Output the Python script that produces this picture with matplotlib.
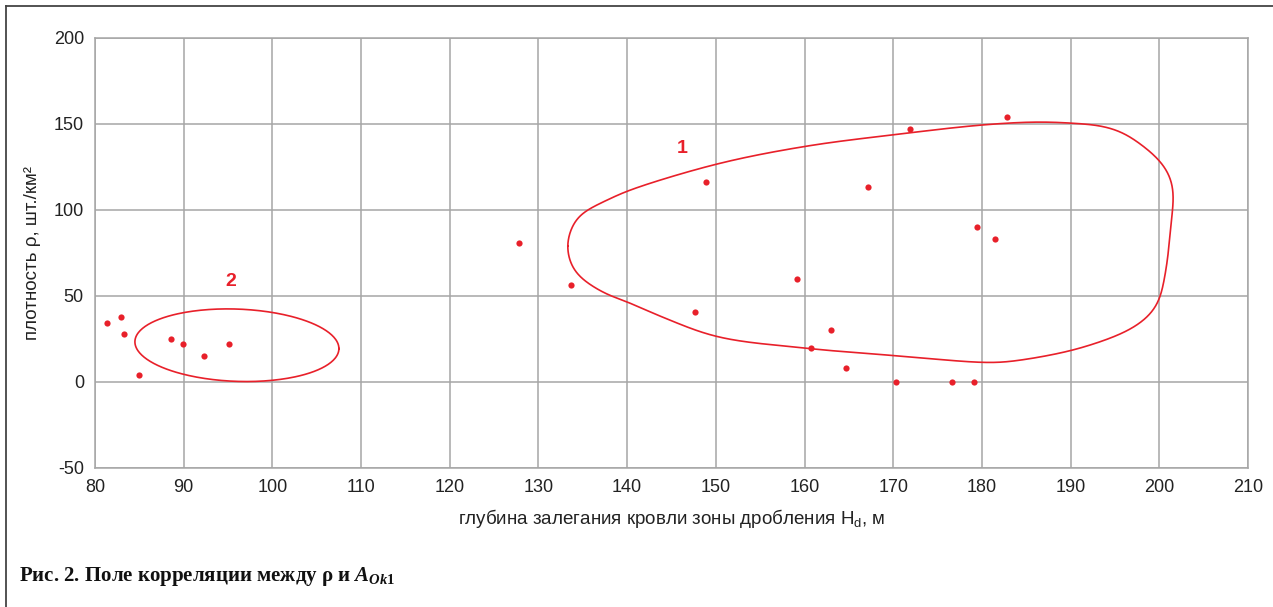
import numpy as np
import matplotlib
matplotlib.use("Agg")
import matplotlib.pyplot as plt
from matplotlib.lines import Line2D

plt.rcParams['font.family'] = ['Liberation Sans', 'DejaVu Sans']
plt.rcParams['axes.unicode_minus'] = False
plt.rcParams['mathtext.fontset'] = 'custom'
plt.rcParams['mathtext.rm'] = 'Liberation Serif:bold'
plt.rcParams['mathtext.it'] = 'Liberation Serif:italic:bold'
plt.rcParams['mathtext.bf'] = 'Liberation Serif:bold'

# measured points: depth of crushing zone top (m) vs density (pcs/km2)
depth = [81.4, 82.9, 83.3, 85.0, 88.6, 89.9, 92.3, 95.1,
         127.8, 133.7, 147.6, 148.9, 159.2, 160.7, 163.0, 164.7,
         167.1, 170.3, 171.9, 176.6, 179.1, 179.5, 181.5, 182.8]
density = [34.0, 37.8, 28.0, 4.1, 24.9, 21.8, 14.9, 21.8,
           80.9, 56.4, 40.4, 115.9, 59.8, 19.9, 30.0, 7.9,
           113.0, 0.0, 147.0, 0.0, 0.0, 90.2, 83.0, 154.1]

# outline of group 1 (hand drawn contour), control points
g1_x = [133.2, 133.7, 134.5, 135.6, 137.5, 140.0, 150.1, 160.1, 170.5,
        180.0, 186.0, 190.0, 193.6, 195.9, 198.2, 200.1, 201.2, 201.6, 201.3,
        200.7, 199.7, 197.4, 191.4, 183.9, 180.9, 170.3, 160.1, 150.1, 143.9,
        140.0, 137.9, 136.0, 134.5, 133.7]
g1_y = [79.0, 89.6, 96.3, 100.2, 105.0, 110.8, 126.5, 136.8, 143.8,
        149.2, 150.9, 150.3, 148.5, 144.7, 136.9, 128.2, 119.5, 109.9, 90.6,
        63.6, 44.2, 32.6, 20.1, 12.3, 11.2, 15.2, 19.6, 26.3, 37.8,
        46.5, 50.4, 55.8, 61.6, 67.4]

# outline of group 2 (ellipse): centre, half widths, shear
g2_center = (96.0, 21.3)
g2_half = (11.5, 21.0)
g2_shear = 0.17

labels = ["1", "2"]
label_x = [146.2, 95.3]
label_y = [135.5, 58.5]

xticks = list(range(80, 211, 10))
yticks = list(range(-50, 201, 50))

red = "#e8202a"
grid = "#a6a6a6"


def closed_spline(px, py, yscale=0.1946, n=40, smooth=1.0):
    # centripetal Catmull-Rom through the control points (closed loop),
    # then a gaussian smoothing along the arc to hide reading noise
    P = np.column_stack([np.asarray(px, float), np.asarray(py, float) * yscale])
    m = len(P)
    pts = []
    for i in range(m):
        p0, p1, p2, p3 = P[i - 1], P[i], P[(i + 1) % m], P[(i + 2) % m]
        t0 = 0.0
        t1 = t0 + np.linalg.norm(p1 - p0) ** 0.5
        t2 = t1 + np.linalg.norm(p2 - p1) ** 0.5
        t3 = t2 + np.linalg.norm(p3 - p2) ** 0.5
        t = np.linspace(t1, t2, n, endpoint=False)[:, None]
        a1 = (t1 - t) / (t1 - t0) * p0 + (t - t0) / (t1 - t0) * p1
        a2 = (t2 - t) / (t2 - t1) * p1 + (t - t1) / (t2 - t1) * p2
        a3 = (t3 - t) / (t3 - t2) * p2 + (t - t2) / (t3 - t2) * p3
        b1 = (t2 - t) / (t2 - t0) * a1 + (t - t0) / (t2 - t0) * a2
        b2 = (t3 - t) / (t3 - t1) * a2 + (t - t1) / (t3 - t1) * a3
        c = (t2 - t) / (t2 - t1) * b1 + (t - t1) / (t2 - t1) * b2
        pts.append(c)
    closed = np.vstack(pts + [pts[0][:1]])

    # resample evenly along the arc
    seg = np.linalg.norm(np.diff(closed, axis=0), axis=1)
    s = np.concatenate([[0], np.cumsum(seg)])
    N = 2000
    su = np.linspace(0, s[-1], N, endpoint=False)
    xs = np.interp(su, s, closed[:, 0])
    ys = np.interp(su, s, closed[:, 1])

    # circular gaussian filter
    sig = smooth / (s[-1] / N)
    k = np.fft.fftfreq(N) * N
    kern = np.exp(-0.5 * (k / sig) ** 2)
    kern /= kern.sum()
    K = np.fft.fft(kern)
    xs = np.real(np.fft.ifft(np.fft.fft(xs) * K))
    ys = np.real(np.fft.ifft(np.fft.fft(ys) * K))
    xs = np.append(xs, xs[0])
    ys = np.append(ys, ys[0])
    return xs, ys / yscale


fig = plt.figure(figsize=(12.73, 6.07), dpi=100)
ax = fig.add_axes([95 / 1273, 1 - 468 / 607, 1153 / 1273, 430.5 / 607])

ax.set_xlim(80, 210)
ax.set_ylim(-50, 200)
ax.set_xticks(xticks)
ax.set_yticks(yticks)
ax.grid(True, color=grid, linewidth=1.1)
ax.set_axisbelow(True)
for s in ax.spines.values():
    s.set_color(grid)
    s.set_linewidth(1.1)
ax.tick_params(length=0, labelsize=13, colors="#222222", pad=8)

cx, cy = closed_spline(g1_x, g1_y)
ax.plot(cx, cy, color=red, linewidth=1.2, solid_joinstyle="round")

t = np.linspace(0, 2 * np.pi, 300)
ex = g2_center[0] + g2_half[0] * np.cos(t)
ey = g2_center[1] + g2_half[1] * np.sin(t) - g2_shear * (ex - g2_center[0])
ax.plot(ex, ey, color=red, linewidth=1.2)

ax.scatter(depth, density, s=20, color=red, zorder=3, linewidths=0)

for lab, lx, ly in zip(labels, label_x, label_y):
    ax.text(lx, ly, lab, color=red, fontsize=14, fontweight="bold",
            ha="center", va="center")

ax.set_xlabel(r"глубина залегания кровли зоны дробления $\mathregular{H_d}$, м",
              fontsize=13.5, color="#222222", labelpad=8)
ax.set_ylabel("плотность ρ, шт./км²", fontsize=13.5, color="#222222", labelpad=9)

fig.text(19 / 1273, 1 - 577 / 607,
         r"Рис. 2. Поле корреляции между ρ и $A_{Ok\mathrm{1}}$",
         family="Liberation Serif", fontweight="bold", fontsize=15,
         va="center", ha="left", color="#111111")

# frame lines (top and left) of the figure panel
fig.add_artist(Line2D([6 / 1273, 1], [1 - 6 / 607, 1 - 6 / 607],
                      transform=fig.transFigure, color="#444444", linewidth=1.3))
fig.add_artist(Line2D([6 / 1273, 6 / 1273], [0, 1 - 6 / 607],
                      transform=fig.transFigure, color="#444444", linewidth=1.3))

fig.savefig("out.png", dpi=100)
